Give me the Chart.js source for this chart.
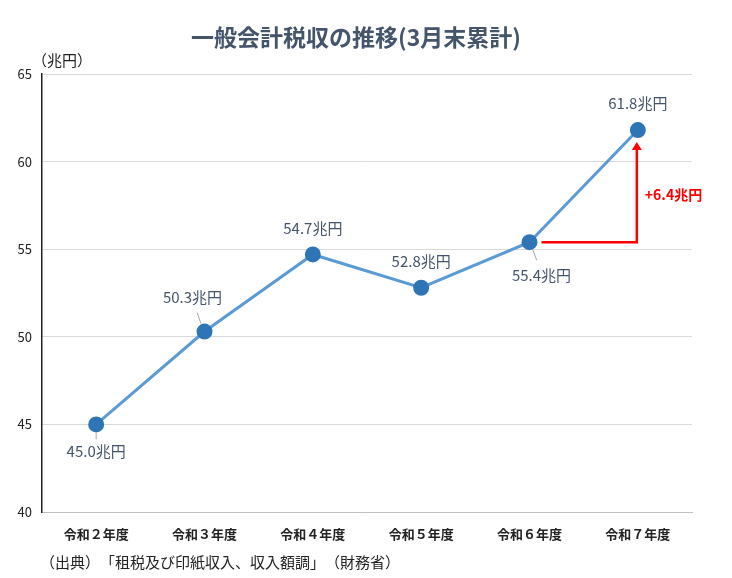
<!DOCTYPE html>
<html><head><meta charset="utf-8">
<script src="https://cdn.jsdelivr.net/npm/chart.js@4"></script>
<style>html,body{margin:0;background:#fff}#wrap{width:732px;height:578px}</style>
</head><body><div id="wrap"><canvas id="c"></canvas></div>
<script>
// 一般会計税収の推移 (3月末累計)
const categories = ["令和２年度", "令和３年度", "令和４年度", "令和５年度", "令和６年度", "令和７年度"];
const revenue = [45.0, 50.3, 54.7, 52.8, 55.4, 61.8];
const yTicks = [40, 45, 50, 55, 60, 65];
// label offsets relative to point: [dx, dy, leader]
const labelPos = [[0, 27, true], [-12, -34, true], [0, -26, false], [0, -26, false], [12, 33, true], [0, -27, false]];

const FONT = "'Noto Sans CJK JP', 'Noto Sans', sans-serif";

const overlay = {
  id: "overlay",
  afterDatasetsDraw(chart) {
    const ctx = chart.ctx, x = chart.scales.x, y = chart.scales.y;
    ctx.save();
    ctx.textAlign = "center"; ctx.textBaseline = "middle";
    ctx.fillStyle = "#44546a"; ctx.font = "bold 23px " + FONT;
    ctx.fillText("一般会計税収の推移(3月末累計)", 356, 37);
    ctx.fillStyle = "#222"; ctx.font = "15px " + FONT;
    ctx.fillText("（兆円）", 62, 60);
    ctx.textAlign = "left";
    ctx.fillText("（出典）　「租税及び印紙収入、収入額調」　（財務省）", 40, 562);
    ctx.textAlign = "center";
    ctx.font = "15px " + FONT;
    revenue.forEach((v, i) => {
      const px = x.getPixelForValue(i), py = y.getPixelForValue(v);
      const [dx, dy, lead] = labelPos[i];
      if (lead) {
        ctx.strokeStyle = "#a6a6a6"; ctx.lineWidth = 1;
        ctx.beginPath();
        ctx.moveTo(px + dx * 0.3, py + Math.sign(dy) * 8);
        ctx.lineTo(px + dx * 0.6, py + dy * 0.55);
        ctx.stroke();
      }
      ctx.fillStyle = "#44546a";
      ctx.fillText(v.toFixed(1) + "兆円", px + dx, py + dy);
    });
    // increase arrow
    const x0 = x.getPixelForValue(4) + 12, x1 = x.getPixelForValue(5) - 1;
    const y0 = y.getPixelForValue(revenue[4]), y1 = y.getPixelForValue(revenue[5]) + 12;
    ctx.strokeStyle = "#ff0000"; ctx.fillStyle = "#ff0000"; ctx.lineWidth = 2.5;
    ctx.beginPath(); ctx.moveTo(x0, y0); ctx.lineTo(x1, y0); ctx.lineTo(x1, y1 + 6); ctx.stroke();
    ctx.beginPath(); ctx.moveTo(x1 - 5, y1 + 8); ctx.lineTo(x1 + 5, y1 + 8); ctx.lineTo(x1, y1); ctx.closePath(); ctx.fill();
    ctx.font = "bold 14px " + FONT; ctx.textAlign = "left";
    ctx.fillText("+" + (revenue[5] - revenue[4]).toFixed(1) + "兆円", x1 + 8, (y0 + y1) / 2 + 3);
    ctx.restore();
  }
};

new Chart(document.getElementById("c"), {
  type: "line",
  data: {
    labels: categories,
    datasets: [{
      data: revenue,
      borderColor: "#5b9bd5",
      borderWidth: 3,
      pointBackgroundColor: "#2e75b6",
      pointBorderColor: "#2e75b6",
      pointRadius: 6.5,
      tension: 0,
    }],
  },
  options: {
    responsive: true,
    maintainAspectRatio: false,
    animation: false,
    layout: { padding: { top: 74, bottom: 36, right: 40, left: 0 } },
    plugins: { legend: { display: false }, tooltip: { enabled: false } },
    scales: {
      x: {
        offset: true,
        grid: { display: false },
        border: { color: "#bfbfbf" },
        ticks: { color: "#222", font: { family: FONT, size: 13, weight: "bold" }, padding: 6, maxRotation: 0 },
        afterFit: (s) => { s.height = 30; },
      },
      y: {
        min: 40, max: 65,
        afterBuildTicks: (s) => { s.ticks = yTicks.map((v) => ({ value: v })); },
        grid: { color: "#d9d9d9", drawTicks: false },
        border: { color: "#222", width: 1.5 },
        ticks: { color: "#222", font: { family: FONT, size: 13 }, padding: 10 },
        afterFit: (s) => { s.width = 42; },
      },
    },
  },
  plugins: [overlay],
});
</script></body></html>
